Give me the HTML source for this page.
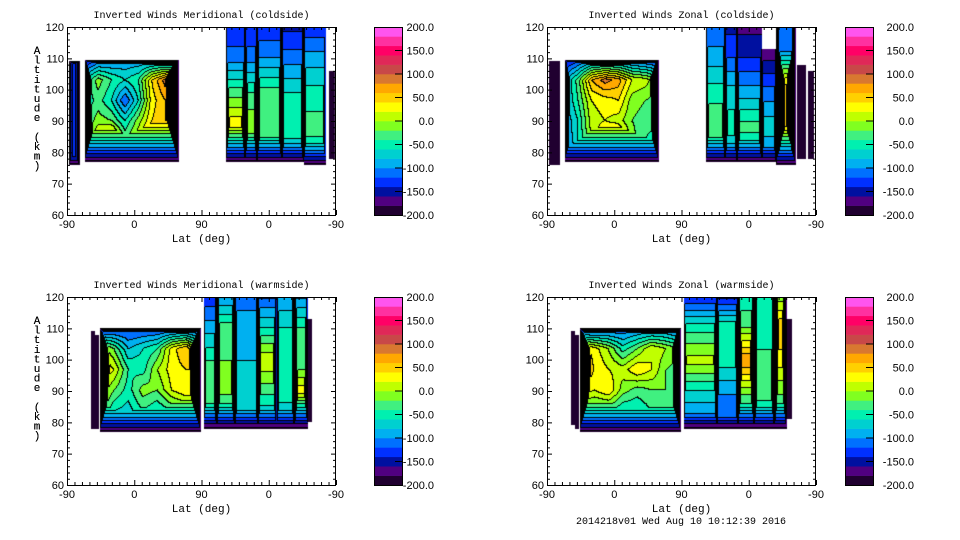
<!DOCTYPE html>
<html><head><meta charset="utf-8">
<style>
body{margin:0;width:960px;height:540px;background:#fff;position:relative;overflow:hidden;font-family:"Liberation Mono",monospace;}
canvas{position:absolute;}
svg{position:absolute;left:0;top:0;}
</style></head>
<body>
<canvas id="c0" width="269" height="188" style="left:67px;top:27px"></canvas>
<canvas id="c1" width="269" height="188" style="left:547px;top:27px"></canvas>
<canvas id="c2" width="269" height="188" style="left:67px;top:297px"></canvas>
<canvas id="c3" width="269" height="188" style="left:547px;top:297px"></canvas>
<svg id="ov" width="960" height="540"></svg>
<script>
// Colour levels (bottom -> top), 20 bands of 20 from -200 to 200
const bandColors = ["#200030","#500080","#0010a0","#0030ff","#0070ff","#00b0f0","#00d0d0","#00f0b0","#40f080","#80ff20","#c0ff00","#ffff00","#ffd000","#ffa800","#d87830","#c84848","#e02858","#ff0066","#ff30a0","#ff55ee"];
const cbTicks = ["200.0","150.0","100.0","50.0","0.0","-50.0","-100.0","-150.0","-200.0"];
const xTicks = ["-90","0","90","0","-90"];
const yTicks = ["120","110","100","90","80","70","60"];
const titles = ["Inverted Winds Meridional (coldside)","Inverted Winds Zonal (coldside)","Inverted Winds Meridional (warmside)","Inverted Winds Zonal (warmside)"];

// Blocks: u (0..360 lat index), altitude extents, value grid rows (top->bottom)
const mcBlocks = [
 {u0:3,u1:17,a0:76,a1:109,k:12,g:[[-130],[-130]]},
 {u0:24,u1:150,a0:77,a1:109.5,k:20,g:[
  [-150,-120,-110,-100,-100,-110,-120,-130],
  [-60,-10,-40,-60,-40,40,90,100],
  [-60,-30,-60,-120,-60,30,60,100],
  [-40,-10,-20,-60,-10,40,60,60],
  [-40,40,80,-20,20,80,60,30],
  [-60,-20,-10,-40,-20,-40,-80,-120]]},
 {u0:213,u1:239,a0:77,a1:121,k:60,g:[[-140],[-110],[-30],[40],[-20]]},
 {u0:239,u1:255,a0:77,a1:121,k:60,g:[[-140],[-110],[-40],[0],[-60]]},
 {u0:255,u1:288,a0:77,a1:121,k:60,g:[[-140],[-100],[-30],[-20],[-60]]},
 {u0:288,u1:317,a0:77,a1:121,k:60,g:[[-150],[-110],[-60],[-50],[-80]]},
 {u0:317,u1:347,a0:76,a1:121,k:60,g:[[-140],[-90],[-50],[-30],[-80]]},
 {u0:350,u1:358,a0:78,a1:106,k:15,g:[[-190]]}
];
const zcBlocks = [
 {u0:3,u1:17,a0:76,a1:109,k:6,g:[[-190]]},
 {u0:24,u1:150,a0:77,a1:109.5,k:20,g:[
  [-150,-130,-110,-110,-110,-120,-130,-140],
  [-90,-30,60,90,70,20,10,-20],
  [-90,-40,20,30,40,-10,-20,-30],
  [-100,-60,10,20,10,-20,-30,-20],
  [-110,-60,0,60,80,-10,-40,-70],
  [-120,-100,-60,-40,-40,-80,-110,-130]]},
 {u0:213,u1:239,a0:77,a1:121,k:60,g:[[-120],[-90],[-50],[-20],[-80]]},
 {u0:239,u1:255,a0:77,a1:121,k:60,g:[[-150],[-120],[-70],[-50],[-90]]},
 {u0:255,u1:288,a0:77,a1:121,k:60,g:[[-170],[-140],[-90],[-30],[-90]]},
 {u0:288,u1:307,a0:77,a1:113,k:60,g:[[-180],[-120],[-70],[-100]]},
 {u0:307,u1:333,a0:76,a1:121,k:25,g:[[-120],[-100],[30],[90],[40],[-60]]},
 {u0:335,u1:346,a0:78,a1:108,k:20,g:[[-195]]},
 {u0:349,u1:357,a0:78,a1:106,k:20,g:[[-185]]}
];
const mwBlocks = [
 {u0:32,u1:37,a0:78,a1:109,k:20,g:[[-195]]},
 {u0:37,u1:43,a0:78,a1:108,k:20,g:[[-195]]},
 {u0:44,u1:179,a0:77,a1:110,k:20,g:[
  [-150,-140,-130,-130,-130,-130,-130,-140],
  [20,-20,-80,-60,-40,30,60,-20],
  [50,20,-40,-50,0,30,40,40],
  [20,-20,-50,-10,-20,20,40,30],
  [0,-60,-70,-40,-60,-40,-30,-20],
  [-110,-110,-120,-120,-120,-120,-120,-120]]},
 {u0:183,u1:201,a0:78,a1:121,k:60,g:[[-140],[-90],[-40],[-20],[-80]]},
 {u0:201,u1:225,a0:78,a1:121,k:60,g:[[-110],[-30],[-20],[-20],[-60]]},
 {u0:225,u1:256,a0:78,a1:121,k:60,g:[[-110],[-90],[-80],[-60],[-100]]},
 {u0:256,u1:281,a0:78,a1:121,k:60,g:[[-130],[-60],[20],[-40],[-100]]},
 {u0:281,u1:305,a0:78,a1:121,k:60,g:[[-100],[-60],[-60],[-50],[-90]]},
 {u0:305,u1:323,a0:78,a1:121,k:60,g:[[-110],[-40],[-40],[40],[-80]]},
 {u0:323,u1:328,a0:80,a1:113,k:20,g:[[-195]]}
];
const zwBlocks = [
 {u0:32,u1:37,a0:79,a1:109,k:20,g:[[-195]]},
 {u0:37,u1:43,a0:78,a1:108,k:20,g:[[-195]]},
 {u0:44,u1:179,a0:77,a1:110,k:20,g:[
  [-150,-140,-130,-120,-110,-110,-110,-130],
  [60,30,0,-50,-20,20,0,-20],
  [90,40,20,10,40,20,-20,-30],
  [40,20,40,-10,-30,-20,-20,-30],
  [-30,-40,-40,-60,-60,-40,-40,-40],
  [-120,-120,-110,-110,-110,-110,-110,-120]]},
 {u0:183,u1:228,a0:78,a1:121,k:60,g:[[-150],[-50],[10],[-70],[-110]]},
 {u0:228,u1:256,a0:78,a1:121,k:60,g:[[-160],[-40],[-50],[-100],[-110]]},
 {u0:256,u1:278,a0:78,a1:121,k:60,g:[[-60],[-20],[80],[-20],[-90]]},
 {u0:278,u1:305,a0:78,a1:121,k:60,g:[[-60],[-60],[-30],[-30],[-90]]},
 {u0:305,u1:321,a0:78,a1:121,k:60,g:[[-20],[60],[30],[-20],[-90]]},
 {u0:321,u1:328,a0:81,a1:113,k:20,g:[[-195]]}
];

const W=269,H=188;
function uToPx(u){return u*W/360;}
function altToPx(a){return (120-a)*H/60;}
function hex(c){return [parseInt(c.substr(1,2),16),parseInt(c.substr(3,2),16),parseInt(c.substr(5,2),16)];}
const rgb = bandColors.map(hex);
function interp(b,u,a){
 const g=b.g,R=g.length,C=g[0].length;
 let fx=C>1?(u-b.u0)/(b.u1-b.u0)*(C-1):0, fy=R>1?(b.a1-a)/(b.a1-b.a0)*(R-1):0;
 const x0=Math.min(Math.floor(fx),C-1),y0=Math.min(Math.floor(fy),R-1);
 const x1=Math.min(x0+1,C-1),y1=Math.min(y0+1,R-1),tx=fx-x0,ty=fy-y0;
 const top=g[y0][x0]*(1-tx)+g[y0][x1]*tx, bot=g[y1][x0]*(1-tx)+g[y1][x1]*tx;
 return top*(1-ty)+bot*ty;
}
function render(id,blocks){
 const cv=document.getElementById(id),ctx=cv.getContext('2d');
 const img=ctx.createImageData(W,H),band=new Int8Array(W*H).fill(-1);
 for(let py=0;py<H;py++){const a=120-(py+0.5)*60/H;
  for(let px=0;px<W;px++){const u=(px+0.5)*360/W;
   for(const b of blocks){
    if(u>=b.u0&&u<=b.u1&&a>=b.a0&&a<=b.a1){
     let v=interp(b,u,a);
     const dx=Math.min(uToPx(u)-uToPx(b.u0),uToPx(b.u1)-uToPx(u));
     const dt=altToPx(a)-altToPx(b.a1), db=altToPx(b.a0)-altToPx(a);
     v=Math.min(v,-185+b.k*dx,-185+6*db);
     if(b.a1<120) v=Math.min(v,-185+20*dt);
     let k=Math.floor((v+200)/20); k=Math.max(0,Math.min(19,k));
     band[py*W+px]=k;break;}
   }}}
 for(let i=0;i<W*H;i++){const k=band[i];const px=i%W;
  let c=[255,255,255];
  if(k>=0){c=rgb[k];
   const r=px<W-1?band[i+1]:-1,d=i+W<W*H?band[i+W]:-1;
   if((r>=0&&r!==k)||(d>=0&&d!==k))c=[0,0,0];}
  img.data[i*4]=c[0];img.data[i*4+1]=c[1];img.data[i*4+2]=c[2];img.data[i*4+3]=255;}
 ctx.putImageData(img,0,0);
}
render('c0',mcBlocks);render('c1',zcBlocks);render('c2',mwBlocks);render('c3',zwBlocks);

const NS="http://www.w3.org/2000/svg",ov=document.getElementById('ov');
function el(tag,attrs,parent){const e=document.createElementNS(NS,tag);for(const k in attrs)e.setAttribute(k,attrs[k]);(parent||ov).appendChild(e);return e;}
const panels=[{x:67,y:27,cb:374,lbl:434},{x:547,y:27,cb:845,lbl:914},{x:67,y:297,cb:374,lbl:434},{x:547,y:297,cb:845,lbl:914}];
panels.forEach((p,i)=>{
 const g=el('g',{});
 
 
 const t=el('text',{x:p.x+134.5,y:p.y-9,'text-anchor':'middle','font-size':'10','font-family':'Liberation Mono, monospace'},g);
 t.textContent=titles[i];
 
 
 const fr=el('rect',{x:p.x+0.5,y:p.y+0.5,width:W-1,height:H,fill:'none',stroke:'#000'},g);
 
 
 let d='';
 for(let a=60;a<=120;a+=2){const y=p.y+altToPx(a)+0.5;const L=(a%10===0)?5:3;d+=`M${p.x} ${y}h${L}M${p.x+W} ${y}h${-L}`;}
 for(let u=0;u<=360;u+=10){const x=p.x+uToPx(u)+0.5;const L=(u%90===0)?5:3;d+=`M${x} ${p.y+H}v${-L}M${x} ${p.y}v${L}`;}
 el('path',{d:d,stroke:'#000','stroke-width':1,fill:'none'},g);
 yTicks.forEach((s,j)=>{const tt=el('text',{x:p.x-3,y:p.y+altToPx(120-10*j)+4,'text-anchor':'end','font-size':'11','font-family':'Liberation Sans, sans-serif'},g);tt.textContent=s;
  
  });
 xTicks.forEach((s,j)=>{const tt=el('text',{x:p.x+uToPx(90*j),y:p.y+H+13,'text-anchor':'middle','font-size':'11','font-family':'Liberation Sans, sans-serif'},g);tt.textContent=s;
  
  });
 const xl=el('text',{x:p.x+134.5,y:p.y+H+27,'text-anchor':'middle','font-size':'11','font-family':'Liberation Mono, monospace'},g);xl.textContent='Lat (deg)';
 
 
 const yl=el('text',{x:37,y:p.y+27,'text-anchor':'middle','font-size':'11','font-family':'Liberation Mono, monospace'},g);
 
 
 'Altitude (km)'.split('').forEach((ch,j)=>{const ts=el('tspan',{x:37,dy:j?9.6:0},yl);ts.textContent=ch;});
 const cbg=el('g',{},g);
 
 
 const ch=188/20;
 bandColors.forEach((c,j)=>{el('rect',{x:p.cb,y:p.y+H-(j+1)*ch,width:28,height:ch+0.3,fill:c},cbg);});
 el('rect',{x:p.cb+0.5,y:p.y+0.5,width:28,height:H,fill:'none',stroke:'#000'},cbg);
 let td='';for(let j=1;j<8;j++){const y=p.y+j*H/8;td+=`M${p.cb+28} ${y}h-7`;}
 el('path',{d:td,stroke:'#000'},cbg);
 cbTicks.forEach((s,j)=>{const tt=el('text',{x:p.lbl,y:p.y+j*H/8+4,'text-anchor':'end','font-size':'11','font-family':'Liberation Sans, sans-serif'},cbg);tt.textContent=s;
  
  });
});
const ft=el('text',{x:681,y:524,'text-anchor':'middle','font-size':'10','font-family':'Liberation Mono, monospace'});
ft.textContent='2014218v01 Wed Aug 10 10:12:39 2016';


</script>
</body></html>
